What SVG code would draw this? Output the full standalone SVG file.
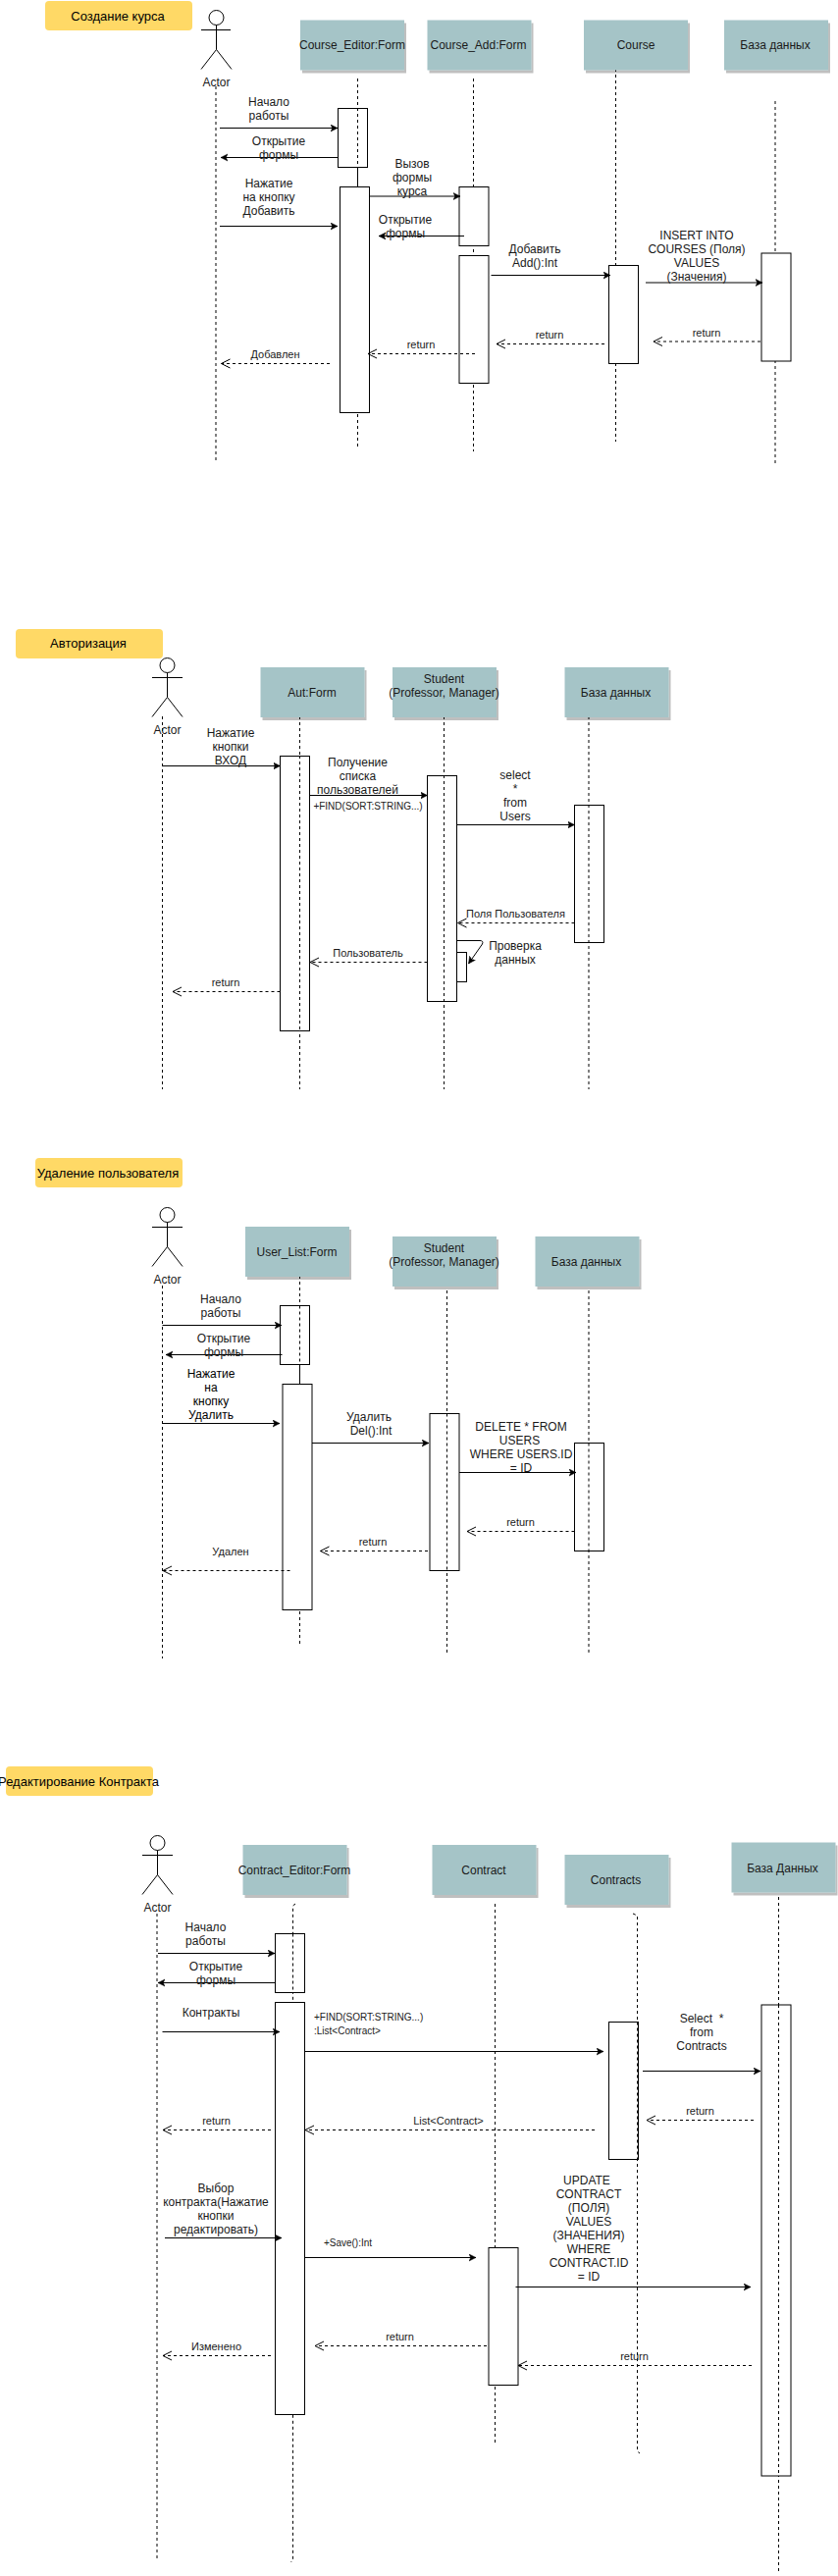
<svg xmlns="http://www.w3.org/2000/svg" width="854" height="2625" viewBox="0 0 854 2625">
<style>
text{font-family:"Liberation Sans",Arial,sans-serif;fill:#1a1a1a}
.m{text-anchor:middle}
.t{font-size:12px}
.e{font-size:11px}
.s{font-size:10px}
.h{font-size:13px;fill:#000}
.title{fill:#FFD966}
.box{fill:#A5C4C7;stroke:#A5C4C7;filter:url(#sh)}
.act{fill:#fff;stroke:#000;stroke-width:1}
.ac{fill:none;stroke:#000;stroke-width:1}
.life{fill:none;stroke:#000;stroke-width:1;stroke-dasharray:3 3}
.msg{fill:none;stroke:#000;stroke-width:1;marker-end:url(#cl)}
.ret{fill:none;stroke:#000;stroke-width:1;stroke-dasharray:3 3;marker-end:url(#op)}
</style>
<defs>
<filter id="sh" x="-5%" y="-5%" width="115%" height="120%"><feDropShadow dx="2" dy="3" stdDeviation="0" flood-color="#000" flood-opacity="0.25"/></filter>
<marker id="cl" markerUnits="userSpaceOnUse" markerWidth="10" markerHeight="10" refX="7" refY="4" orient="auto"><path d="M0,0.5 L7,4 L0,7.5 L1.75,4Z" fill="#000" stroke="#000" stroke-width="0.5"/></marker>
<marker id="op" markerUnits="userSpaceOnUse" markerWidth="12" markerHeight="14" refX="10" refY="6" orient="auto"><path d="M1,1.5 L10,6 L1,10.5" fill="none" stroke="#000" stroke-width="1"/></marker>
</defs>
<rect width="854" height="2625" fill="#fff"/>

<g id="connectors">
<path class="life" d="M220,88V470M364.5,80V457M482.5,80V460M627.5,70V450M790,103V473"/>
<path class="ac" d="M364.5,170V190"/>
<path class="life" d="M165.5,730V1110M305.5,730V1110M452.5,730V1110M600,730V1110"/>
<path class="life" d="M165.5,1310V1690M305.5,1300V1676M455.5,1315V1686M600,1315V1686"/>
<path class="ac" d="M305.5,1390V1410"/>
<path class="life" d="M160,1950V2607M504.5,1940V2489M793.5,1933V2623"/>
<path class="life" d="M301,1940 L298.5,1942V2608L296.5,2611"/>
<path class="life" d="M645,1950 L649.5,1952V2498L652,2500"/>
</g>

<!-- Section 1 -->
<g id="title-course"><rect class="title" x="46" y="1" width="150" height="30" rx="4"/><text class="h m" x="120" y="21">Создание курса</text></g>
<g id="actor-1"><circle class="ac" cx="220.5" cy="18" r="7.5"/><path class="ac" d="M205,30.5H235M220.5,25.5V50.5M220.5,50.5L205,70.5M220.5,50.5L236,70.5"/><text class="t m" x="220.5" y="88">Actor</text></g>
<g id="course-editor-form"><rect class="box" x="306.5" y="21" width="105" height="50"/><text class="t m" x="359" y="50">Course_Editor:Form</text></g>
<g id="course-add-form"><rect class="box" x="436" y="21" width="105" height="50"/><text class="t m" x="487.5" y="50">Course_Add:Form</text></g>
<g id="course"><rect class="box" x="595.5" y="21" width="105" height="50"/><text class="t m" x="648" y="50">Course</text></g>
<g id="db-1"><rect class="box" x="738.5" y="21" width="105" height="50"/><text class="t m" x="790" y="50">База данных</text></g>
<g id="a1-1"><rect class="act" x="344.5" y="110.5" width="30" height="60" style="fill:none"/></g>
<g id="a1-2"><rect class="act" x="346.5" y="190.5" width="30" height="230"/></g>
<g id="a1-3"><rect class="act" x="468" y="190.5" width="30" height="60"/></g>
<g id="a1-4"><rect class="act" x="468" y="260.5" width="30" height="130"/></g>
<g id="a1-5"><rect class="act" x="620.5" y="270.5" width="30" height="100"/></g>
<g id="a1-6"><rect class="act" x="776" y="258" width="30" height="110"/></g>
<g id="connectors-1">
<path class="msg" d="M224,130.5H344"/>
<path class="msg" d="M344,160.5H225"/>
<path class="msg" d="M377,200H469"/>
<path class="msg" d="M224,230.5H344"/>
<path class="msg" d="M473,240.5H386"/>
<path class="msg" d="M500.5,280.5H622"/>
<path class="msg" d="M658,288H777"/>
<path class="ret" d="M775,348H666"/>
<path class="ret" d="M616,350.5H506"/>
<path class="ret" d="M484,360.5H375"/>
<path class="ret" d="M336,370.5H225.5"/>
</g>
<g id="labels-1">
<text class="t m"><tspan x="274" y="108">Начало</tspan><tspan x="274" y="122">работы</tspan></text>
<text class="t m"><tspan x="284" y="148">Открытие</tspan><tspan x="284" y="162">формы</tspan></text>
<text class="t m"><tspan x="420" y="171">Вызов</tspan><tspan x="420" y="185">формы</tspan><tspan x="420" y="199">курса</tspan></text>
<text class="t m"><tspan x="274" y="191">Нажатие</tspan><tspan x="274" y="205">на кнопку</tspan><tspan x="274" y="219">Добавить</tspan></text>
<text class="t m"><tspan x="413" y="228">Открытие</tspan><tspan x="413" y="242">формы</tspan></text>
<text class="t m"><tspan x="545" y="258">Добавить</tspan><tspan x="545" y="272">Add():Int</tspan></text>
<text class="t m"><tspan x="710" y="244">INSERT INTO</tspan><tspan x="710" y="258">COURSES (Поля)</tspan><tspan x="710" y="272">VALUES</tspan><tspan x="710" y="286">(Значения)</tspan></text>
<text class="e m" x="720" y="343">return</text>
<text class="e m" x="560" y="345">return</text>
<text class="e m" x="429" y="355">return</text>
<text class="e m" x="280.5" y="365">Добавлен</text>
</g>

<!-- Section 2 -->
<g id="title-auth"><rect class="title" x="16" y="641" width="150" height="30" rx="4"/><text class="h m" x="90" y="660">Авторизация</text></g>
<g id="actor-2"><circle class="ac" cx="170.5" cy="678" r="7.5"/><path class="ac" d="M155,690.5H186M170.5,685.5V710.5M170.5,710.5L155,730.5M170.5,710.5L186,730.5"/><text class="t m" x="170.5" y="748">Actor</text></g>
<g id="aut-form"><rect class="box" x="266" y="680.5" width="105" height="50"/><text class="t m" x="318" y="710">Aut:Form</text></g>
<g id="student-1"><rect class="box" x="400.5" y="680.5" width="105" height="50"/><text class="t m"><tspan x="452.5" y="696">Student</tspan><tspan x="452.5" y="710">(Professor, Manager)</tspan></text></g>
<g id="db-2"><rect class="box" x="576" y="680.5" width="105" height="50"/><text class="t m" x="627.5" y="710">База данных</text></g>
<g id="a2-1"><rect class="act" x="285.5" y="770.5" width="30" height="280"/></g>
<g id="a2-2"><rect class="act" x="435.5" y="790.5" width="30" height="230"/></g>
<g id="a2-3"><rect class="act" x="585.5" y="820.5" width="30" height="140"/></g>
<g id="a2-4"><rect class="act" x="465.5" y="970.5" width="10" height="30"/></g>
<g id="connectors-2">
<path class="life" d="M305.5,770V1050M452.5,790V1020M600,820V960"/>
<path class="msg" d="M165.5,780.5H285.5"/>
<path class="msg" d="M315.5,810.5H435.5"/>
<path class="msg" d="M465.5,840.5H585.5"/>
<path class="ret" d="M585.5,940.5H466.5"/>
<path class="ret" d="M435.5,980.5H316"/>
<path class="ret" d="M285.5,1010.5H176"/>
<path class="msg" d="M465,958.5H489Q493,958.5 491.5,962L477.5,982"/>
</g>
<g id="labels-2">
<text class="t m"><tspan x="235" y="751">Нажатие</tspan><tspan x="235" y="765">кнопки</tspan><tspan x="235" y="779">ВХОД</tspan></text>
<text class="t m"><tspan x="364.5" y="781">Получение</tspan><tspan x="364.5" y="795">списка</tspan><tspan x="364.5" y="809">пользователей</tspan></text>
<text class="s m" x="375" y="825">+FIND(SORT:STRING...)</text>
<text class="t m"><tspan x="525" y="794">select</tspan><tspan x="525" y="808">*</tspan><tspan x="525" y="822">from</tspan><tspan x="525" y="836">Users</tspan></text>
<text class="e m" x="525.5" y="935">Поля Пользователя</text>
<text class="t m"><tspan x="525" y="968">Проверка</tspan><tspan x="525" y="982">данных</tspan></text>
<text class="e m" x="375" y="975">Пользователь</text>
<text class="e m" x="230" y="1005">return</text>
</g>

<!-- Section 3 -->
<g id="title-delete"><rect class="title" x="36" y="1180" width="150" height="30" rx="4"/><text class="h m" x="110" y="1200">Удаление пользователя</text></g>
<g id="actor-3"><circle class="ac" cx="170.5" cy="1238" r="7.5"/><path class="ac" d="M155,1250.5H186M170.5,1245.5V1270.5M170.5,1270.5L155,1290.5M170.5,1270.5L186,1290.5"/><text class="t m" x="170.5" y="1308">Actor</text></g>
<g id="user-list-form"><rect class="box" x="250.5" y="1250.5" width="105" height="50"/><text class="t m" x="302.5" y="1280">User_List:Form</text></g>
<g id="student-2"><rect class="box" x="400.5" y="1260.5" width="105" height="50"/><text class="t m"><tspan x="452.5" y="1276">Student</tspan><tspan x="452.5" y="1290">(Professor, Manager)</tspan></text></g>
<g id="db-3"><rect class="box" x="546" y="1260.5" width="105" height="50"/><text class="t m" x="597.5" y="1290">База данных</text></g>
<g id="a3-1"><rect class="act" x="285.5" y="1330.5" width="30" height="60" style="fill:#fff"/></g>
<g id="a3-2"><rect class="act" x="288" y="1410.5" width="30" height="230"/></g>
<g id="a3-3"><rect class="act" x="438" y="1440.5" width="30" height="160"/></g>
<g id="a3-4"><rect class="act" x="585.5" y="1470.5" width="30" height="110"/></g>
<g id="connectors-3">
<path class="life" d="M305.5,1330.5V1390M455.5,1440.5V1600M600,1470.5V1580"/>
<path class="msg" d="M165.5,1350.5H287"/>
<path class="msg" d="M287.5,1380.5H169"/>
<path class="msg" d="M165.5,1450.5H285"/>
<path class="msg" d="M318,1470.5H437"/>
<path class="msg" d="M468,1500.5H587"/>
<path class="ret" d="M585.5,1560.5H476"/>
<path class="ret" d="M436,1580.5H326.5"/>
<path class="ret" d="M295.5,1600.5H166"/>
</g>
<g id="labels-3">
<text class="t m"><tspan x="225" y="1328">Начало</tspan><tspan x="225" y="1342">работы</tspan></text>
<text class="t m"><tspan x="228" y="1368">Открытие</tspan><tspan x="228" y="1382">формы</tspan></text>
<text class="t m" style="fill:#000"><tspan x="215" y="1404">Нажатие</tspan><tspan x="215" y="1418">на</tspan><tspan x="215" y="1432">кнопку</tspan><tspan x="215" y="1446">Удалить</tspan></text>
<text class="t m"><tspan x="376" y="1448">Удалить</tspan><tspan x="378" y="1462">Del():Int</tspan></text>
<text class="t m"><tspan x="531" y="1458">DELETE * FROM</tspan><tspan x="529.5" y="1472">USERS</tspan><tspan x="531" y="1486">WHERE USERS.ID</tspan><tspan x="531" y="1500">= ID</tspan></text>
<text class="e m" x="530.5" y="1555">return</text>
<text class="e m" x="380" y="1575">return</text>
<text class="e m" x="235" y="1585">Удален</text>
</g>

<!-- Section 4 -->
<g id="title-contract"><rect class="title" x="6" y="1800" width="150" height="30" rx="4"/><text class="h m" x="80" y="1820">Редактирование Контракта</text></g>
<g id="actor-4"><circle class="ac" cx="160.5" cy="1878" r="7.5"/><path class="ac" d="M145,1890.5H176M160.5,1885.5V1910.5M160.5,1910.5L145,1930.5M160.5,1910.5L176,1930.5"/><text class="t m" x="160.5" y="1948">Actor</text></g>
<g id="contract-editor-form"><rect class="box" x="248" y="1880.5" width="105" height="50"/><text class="t m" x="300" y="1910">Contract_Editor:Form</text></g>
<g id="contract"><rect class="box" x="441" y="1880.5" width="105" height="50"/><text class="t m" x="493" y="1910">Contract</text></g>
<g id="contracts"><rect class="box" x="576" y="1890.5" width="105" height="50"/><text class="t m" x="627.5" y="1920">Contracts</text></g>
<g id="db-4"><rect class="box" x="746" y="1878" width="105" height="50"/><text class="t m" x="797.5" y="1908">База Данных</text></g>
<g id="a4-1"><rect class="act" x="280.5" y="1970.5" width="30" height="60"/></g>
<g id="a4-2"><rect class="act" x="280.5" y="2040.5" width="30" height="420"/></g>
<g id="a4-3"><rect class="act" x="620.5" y="2060.5" width="30" height="140"/></g>
<g id="a4-4"><rect class="act" x="776" y="2043" width="30" height="480"/></g>
<g id="a4-5"><rect class="act" x="498" y="2290.5" width="30" height="140"/></g>
<g id="connectors-4">
<path class="life" d="M298.5,1970.5V2030.5M793.5,2043V2523M649.5,2060.5V2200"/>
<path class="msg" d="M161,1990.5H280"/>
<path class="msg" d="M280.5,2020.5H161"/>
<path class="msg" d="M165.5,2070.5H285"/>
<path class="msg" d="M310.5,2090.5H615"/>
<path class="msg" d="M655,2110.5H775"/>
<path class="ret" d="M768,2160.5H659"/>
<path class="ret" d="M606,2170.5H311"/>
<path class="ret" d="M276,2170.5H166"/>
<path class="msg" d="M168,2280.5H287"/>
<path class="msg" d="M310.5,2300.5H485"/>
<path class="msg" d="M525.5,2330.5H765"/>
<path class="ret" d="M766,2410.5H528"/>
<path class="ret" d="M496,2390.5H321"/>
<path class="ret" d="M276,2400.5H166"/>
</g>
<g id="labels-4">
<text class="t m"><tspan x="209.5" y="1968">Начало</tspan><tspan x="209.5" y="1982">работы</tspan></text>
<text class="t m"><tspan x="220" y="2008">Открытие</tspan><tspan x="220" y="2022">формы</tspan></text>
<text class="t m" x="215" y="2055">Контракты</text>
<text class="s" x="320" y="2058.5">+FIND(SORT:STRING...)</text>
<text class="s" x="320" y="2072.5">:List&lt;Contract&gt;</text>
<text class="t m" xml:space="preserve"><tspan x="715" y="2061">Select  *</tspan><tspan x="715" y="2075">from</tspan><tspan x="715" y="2089">Contracts</tspan></text>
<text class="e m" x="713.5" y="2155">return</text>
<text class="e m" x="457" y="2165">List&lt;Contract&gt;</text>
<text class="e m" x="220.5" y="2165">return</text>
<text class="t m"><tspan x="220" y="2234">Выбор</tspan><tspan x="220" y="2248">контракта(Нажатие</tspan><tspan x="220" y="2262">кнопки</tspan><tspan x="220" y="2276">редактировать)</tspan></text>
<text class="s m" x="354.5" y="2288.5">+Save():Int</text>
<text class="t m"><tspan x="598" y="2226">UPDATE</tspan><tspan x="600" y="2240">CONTRACT</tspan><tspan x="600" y="2254">(ПОЛЯ)</tspan><tspan x="600" y="2268">VALUES</tspan><tspan x="600" y="2282">(ЗНАЧЕНИЯ)</tspan><tspan x="600" y="2296">WHERE</tspan><tspan x="600" y="2310">CONTRACT.ID</tspan><tspan x="600" y="2324">= ID</tspan></text>
<text class="e m" x="407.5" y="2385">return</text>
<text class="e m" x="646.5" y="2405">return</text>
<text class="e m" x="220.5" y="2395">Изменено</text>
</g>
</svg>
